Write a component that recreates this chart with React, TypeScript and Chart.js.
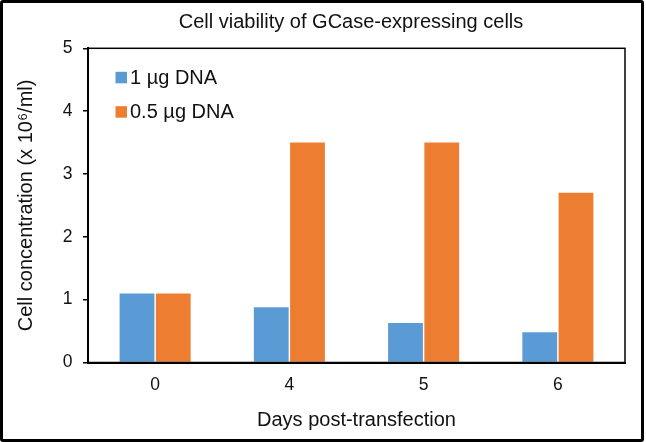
import React, { useEffect, useRef } from 'react';
import { Chart, registerables, Plugin } from 'chart.js';

Chart.register(...registerables);

const days = ['0', '4', '5', '6'];
const dna1ug = [1.1, 0.88, 0.63, 0.48];
const dna05ug = [1.1, 3.5, 3.5, 2.7];
const seriesLabels = ['1 µg DNA', '0.5 µg DNA'];
const seriesColors = ['#5B9BD5', '#ED7D31'];
const chartTitle = 'Cell viability of GCase-expressing cells';

const FONT = "'Liberation Sans', Arial, sans-serif";

// box around the plot area (top + right sides too)
const frame: Plugin<'bar'> = {
  id: 'frame',
  afterDraw(chart) {
    const { ctx, chartArea: a } = chart;
    ctx.save();
    ctx.strokeStyle = '#000';
    ctx.lineWidth = 1.5;
    ctx.strokeRect(a.left, a.top, a.right - a.left, a.bottom - a.top);
    ctx.restore();
  }
};

// title sits a little left of the plot centre, like the excel original
const topTitle: Plugin<'bar'> = {
  id: 'topTitle',
  afterDraw(chart) {
    const { ctx, chartArea: a } = chart;
    ctx.save();
    ctx.font = `20px ${FONT}`;
    ctx.fillStyle = '#111';
    ctx.textAlign = 'center';
    ctx.textBaseline = 'middle';
    ctx.fillText(chartTitle, (a.left + a.right) / 2 - 5.5, a.top - 25.5);
    ctx.restore();
  }
};

// legend sitting inside the plot, top-left
const innerLegend: Plugin<'bar'> = {
  id: 'innerLegend',
  afterDraw(chart) {
    const { ctx, chartArea: a } = chart;
    ctx.save();
    ctx.font = `20px ${FONT}`;
    ctx.textBaseline = 'middle';
    ctx.textAlign = 'left';
    chart.data.datasets.forEach((ds, i) => {
      const cy = a.top + 29 + i * 34.4;
      const bx = a.left + 27.5;
      ctx.fillStyle = ds.backgroundColor as string;
      ctx.fillRect(bx, cy - 5.5, 11.5, 11.5);
      ctx.fillStyle = '#111';
      ctx.fillText(ds.label || '', bx + 14.5, cy + 1);
    });
    ctx.restore();
  }
};

export default function App() {
  const canvasRef = useRef<HTMLCanvasElement>(null);
  const chartRef = useRef<Chart | null>(null);

  useEffect(() => {
    if (!canvasRef.current) return;
    if (chartRef.current) chartRef.current.destroy();

    chartRef.current = new Chart(canvasRef.current, {
      type: 'bar',
      data: {
        labels: days,
        datasets: [
          {
            label: seriesLabels[0],
            data: dna1ug,
            backgroundColor: seriesColors[0],
            categoryPercentage: 0.54,
            barPercentage: 0.96
          },
          {
            label: seriesLabels[1],
            data: dna05ug,
            backgroundColor: seriesColors[1],
            categoryPercentage: 0.54,
            barPercentage: 0.96
          }
        ]
      },
      options: {
        animation: false,
        responsive: true,
        maintainAspectRatio: false,
        layout: { padding: { left: 0, right: 21, top: 48.3, bottom: 0 } },
        plugins: {
          legend: { display: false },
          tooltip: { enabled: false },
          title: { display: false }
        },
        scales: {
          x: {
            grid: { display: false, drawTicks: false },
            border: { display: true, color: '#000', width: 2 },
            ticks: {
              color: '#111',
              padding: 12,
              font: { family: FONT, size: 17.5 }
            },
            title: {
              display: true,
              text: 'Days post-transfection',
              color: '#111',
              font: { family: FONT, size: 20 },
              padding: { top: 0, bottom: 9.5 }
            },
            afterFit(scale) {
              scale.height = 79.5;
            }
          },
          y: {
            min: 0,
            max: 5,
            grid: {
              display: true,
              drawOnChartArea: false,
              drawTicks: true,
              tickLength: 5,
              color: '#000',
              lineWidth: 1.5
            },
            border: { display: true, color: '#000', width: 2 },
            ticks: {
              stepSize: 1,
              color: '#111',
              padding: 10.5,
              font: { family: FONT, size: 17.5 }
            },
            title: {
              display: true,
              text: 'Cell concentration (x 10⁶/ml)',
              color: '#111',
              font: { family: FONT, size: 20 },
              padding: { top: 14.5, bottom: 0 }
            },
            afterFit(scale) {
              scale.width = 88;
            }
          }
        }
      },
      plugins: [frame, topTitle, innerLegend]
    });

    return () => {
      if (chartRef.current) {
        chartRef.current.destroy();
        chartRef.current = null;
      }
    };
  }, []);

  return (
    <div
      style={{
        position: 'fixed',
        left: 0,
        top: 0,
        width: 646,
        height: 442,
        background: '#fff'
      }}
    >
      <canvas ref={canvasRef} />
      <div
        style={{
          position: 'absolute',
          left: 0,
          top: 0,
          width: 644,
          height: 442,
          boxSizing: 'border-box',
          border: '3px solid #000',
          borderRadius: 3,
          pointerEvents: 'none'
        }}
      />
    </div>
  );
}
